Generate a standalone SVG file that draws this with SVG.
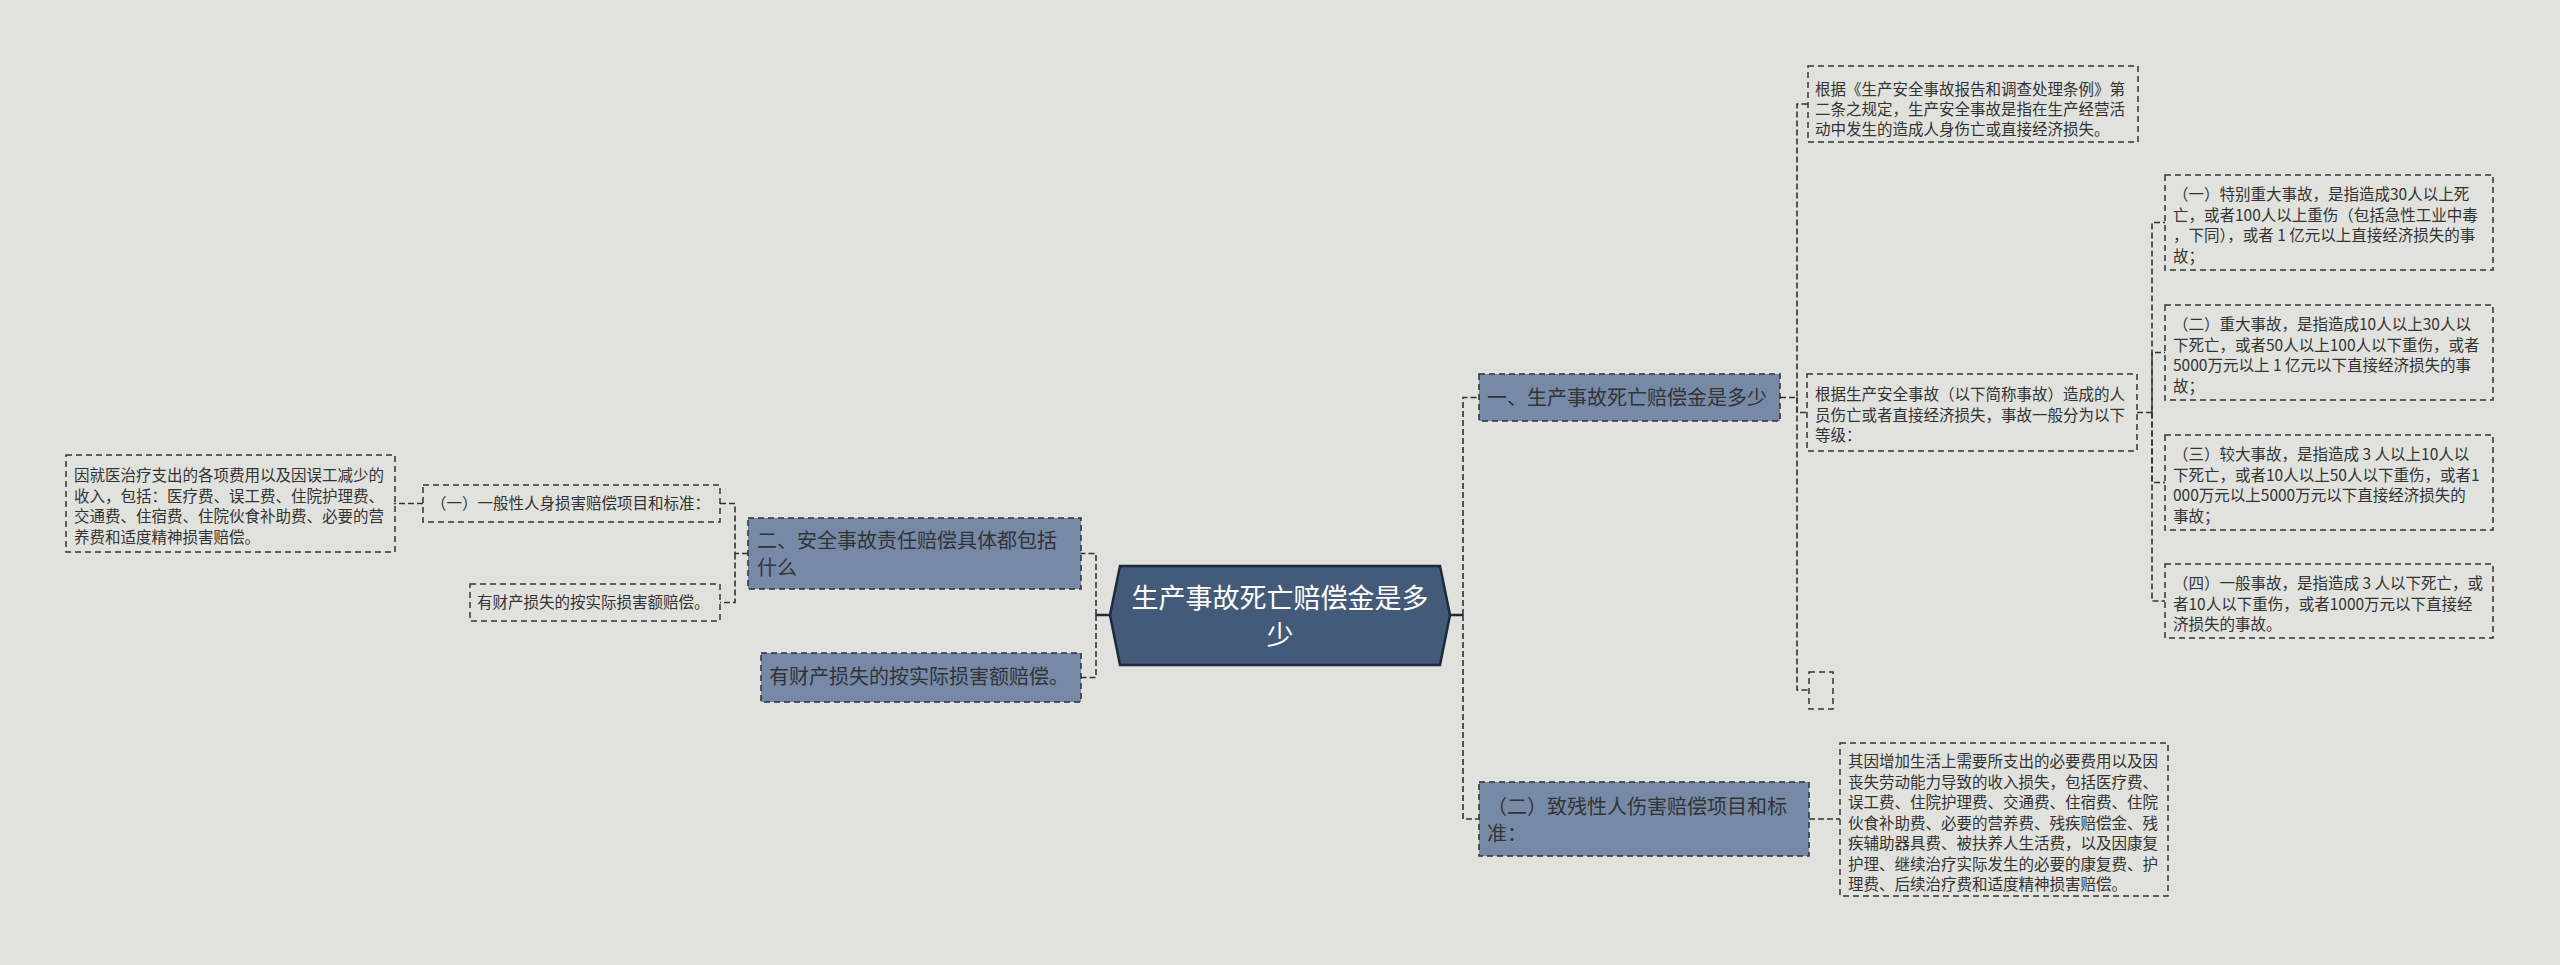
<svg xmlns="http://www.w3.org/2000/svg" width="2560" height="965" viewBox="0 0 2560 965">
<style>
text{font-family:"Noto Sans CJK SC","Noto Sans",sans-serif;fill:#333}
.sm{font-size:15.5px}
.md{font-size:20px}
.ctr{font-size:27px;fill:#fff}
.box{fill:none;stroke:#333;stroke-width:1.5;stroke-dasharray:6 4}
.blue{fill:#768aa8;stroke:#2a2f38;stroke-width:1.5;stroke-dasharray:6 4}
.con{fill:none;stroke:#333;stroke-width:1.6;stroke-dasharray:6 3}
.solid{fill:none;stroke:#1d2a3a;stroke-width:2.5}
</style>
<rect width="2560" height="965" fill="#e1e2dd"/>
<g id="connectors">
<path class="solid" d="M1450,615 H1463"/>
<path class="solid" d="M1110,615 H1096"/>
<path class="con" d="M1463,615 V397.5 H1479"/>
<path class="con" d="M1463,615 V819 H1479"/>
<path class="con" d="M1780,397.5 H1797 V104 H1808"/>
<path class="con" d="M1797,397.5 V412.5 H1807"/>
<path class="con" d="M1797,397.5 V690 H1809"/>
<path class="con" d="M2137,412.5 H2152 V222.5 H2165"/>
<path class="con" d="M2152,412.5 V352.5 H2165"/>
<path class="con" d="M2152,412.5 V482.5 H2165"/>
<path class="con" d="M2152,412.5 V601 H2165"/>
<path class="con" d="M1809,819 H1840"/>
<path class="con" d="M1096,615 V553.5 H1081"/>
<path class="con" d="M1096,615 V677.5 H1081"/>
<path class="con" d="M748,553.5 H735 V503.5 H720"/>
<path class="con" d="M735,553.5 V602.5 H720"/>
<path class="con" d="M423,503.5 H394"/>
</g>
<g id="root">
<polygon points="1110,615 1120,566 1440,566 1450,615 1440,665 1120,665" fill="#435a78" stroke="#1d2a3a" stroke-width="2.5"/>
<text class="ctr" x="1280" y="608" text-anchor="middle">生产事故死亡赔偿金是多</text>
<text class="ctr" x="1280" y="645" text-anchor="middle">少</text>
</g>
<g id="n1">
<rect class="blue" x="1479" y="374" width="301" height="47"/>
<text class="md" x="1487" y="405">一、生产事故死亡赔偿金是多少</text>
</g>
<g id="n1a">
<rect class="box" x="1808" y="66" width="330" height="76"/>
<text class="sm"><tspan x="1815" y="95">根据《生产安全事故报告和调查处理条例》第</tspan><tspan x="1815" y="115">二条之规定，生产安全事故是指在生产经营活</tspan><tspan x="1815" y="135">动中发生的造成人身伤亡或直接经济损失。</tspan></text>
</g>
<g id="n1b">
<rect class="box" x="1807" y="374" width="330" height="77"/>
<text class="sm"><tspan x="1815" y="400">根据生产安全事故（以下简称事故）造成的人</tspan><tspan x="1815" y="420.5">员伤亡或者直接经济损失，事故一般分为以下</tspan><tspan x="1815" y="441">等级：</tspan></text>
</g>
<g id="n1b1">
<rect class="box" x="2165" y="175" width="328" height="95"/>
<text class="sm"><tspan x="2173" y="200">（一）特别重大事故，是指造成30人以上死</tspan><tspan x="2173" y="220.5">亡，或者100人以上重伤（包括急性工业中毒</tspan><tspan x="2173" y="241">，下同），或者 1 亿元以上直接经济损失的事</tspan><tspan x="2173" y="261.5">故；</tspan></text>
</g>
<g id="n1b2">
<rect class="box" x="2165" y="305" width="328" height="95"/>
<text class="sm"><tspan x="2173" y="330">（二）重大事故，是指造成10人以上30人以</tspan><tspan x="2173" y="350.5">下死亡，或者50人以上100人以下重伤，或者</tspan><tspan x="2173" y="371">5000万元以上 1 亿元以下直接经济损失的事</tspan><tspan x="2173" y="391.5">故；</tspan></text>
</g>
<g id="n1b3">
<rect class="box" x="2165" y="435" width="328" height="95"/>
<text class="sm"><tspan x="2173" y="460">（三）较大事故，是指造成 3 人以上10人以</tspan><tspan x="2173" y="480.5">下死亡，或者10人以上50人以下重伤，或者1</tspan><tspan x="2173" y="501">000万元以上5000万元以下直接经济损失的</tspan><tspan x="2173" y="521.5">事故；</tspan></text>
</g>
<g id="n1b4">
<rect class="box" x="2165" y="564" width="328" height="74"/>
<text class="sm"><tspan x="2173" y="589">（四）一般事故，是指造成 3 人以下死亡，或</tspan><tspan x="2173" y="609.5">者10人以下重伤，或者1000万元以下直接经</tspan><tspan x="2173" y="630">济损失的事故。</tspan></text>
</g>
<g id="n1c">
<rect class="box" x="1809" y="672" width="24" height="37"/>
</g>
<g id="n2">
<rect class="blue" x="1479" y="782" width="330" height="74"/>
<text class="md"><tspan x="1487" y="814">（二）致残性人伤害赔偿项目和标</tspan><tspan x="1487" y="841">准：</tspan></text>
</g>
<g id="n2a">
<rect class="box" x="1840" y="743" width="328" height="153"/>
<text class="sm"><tspan x="1848" y="767">其因增加生活上需要所支出的必要费用以及因</tspan><tspan x="1848" y="787.5">丧失劳动能力导致的收入损失，包括医疗费、</tspan><tspan x="1848" y="808">误工费、住院护理费、交通费、住宿费、住院</tspan><tspan x="1848" y="828.5">伙食补助费、必要的营养费、残疾赔偿金、残</tspan><tspan x="1848" y="849">疾辅助器具费、被扶养人生活费，以及因康复</tspan><tspan x="1848" y="869.5">护理、继续治疗实际发生的必要的康复费、护</tspan><tspan x="1848" y="890">理费、后续治疗费和适度精神损害赔偿。</tspan></text>
</g>
<g id="n3">
<rect class="blue" x="748" y="518" width="333" height="71"/>
<text class="md"><tspan x="757" y="548">二、安全事故责任赔偿具体都包括</tspan><tspan x="757" y="575">什么</tspan></text>
</g>
<g id="n3a">
<rect class="box" x="423" y="485" width="297" height="37"/>
<text class="sm" x="431" y="509">（一）一般性人身损害赔偿项目和标准：</text>
</g>
<g id="n3a1">
<rect class="box" x="66" y="455" width="329" height="97"/>
<text class="sm"><tspan x="74" y="481">因就医治疗支出的各项费用以及因误工减少的</tspan><tspan x="74" y="501.5">收入，包括：医疗费、误工费、住院护理费、</tspan><tspan x="74" y="522">交通费、住宿费、住院伙食补助费、必要的营</tspan><tspan x="74" y="542.5">养费和适度精神损害赔偿。</tspan></text>
</g>
<g id="n3b">
<rect class="box" x="470" y="584" width="250" height="37"/>
<text class="sm" x="477" y="608">有财产损失的按实际损害额赔偿。</text>
</g>
<g id="n4">
<rect class="blue" x="761" y="653" width="320" height="49"/>
<text class="md" x="769" y="684">有财产损失的按实际损害额赔偿。</text>
</g>
</svg>
